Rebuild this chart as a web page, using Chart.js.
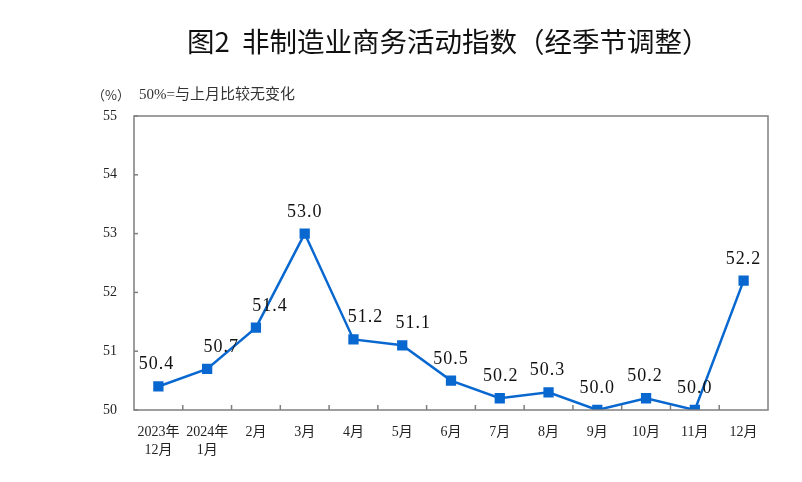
<!DOCTYPE html>
<html>
<head>
<meta charset="utf-8">
<script src="https://cdn.jsdelivr.net/npm/chart.js@4/dist/chart.umd.min.js"></script>
<style>
  html, body { margin: 0; padding: 0; background: #fff; }
  #wrap { width: 802px; height: 482px; }
</style>
</head>
<body>
<div id="wrap"><canvas id="myChart" width="802" height="482"></canvas></div>
<script>
// categorias (eje x) y valores del indice
const meses = [['2023年', '12月'], ['2024年', '1月'], '2月', '3月', '4月', '5月', '6月', '7月', '8月', '9月', '10月', '11月', '12月'];
const valores = [50.4, 50.7, 51.4, 53.0, 51.2, 51.1, 50.5, 50.2, 50.3, 50.0, 50.2, 50.0, 52.2];
const ticksY = [50, 51, 52, 53, 54, 55];

const titulo = '图2  非制造业商务活动指数（经季节调整）';
const nota = '50%=与上月比较无变化';

// desplazamiento horizontal de algunas etiquetas (px)
const desplazaEtiqueta = [-2, 14, 14, 0, 12, 11, 0, 1, -1, 0, -1, 0, 0];

const serif = '"Liberation Serif", "DejaVu Serif", serif';
const cjk = '"Noto Sans CJK SC", sans-serif';

// marco, marcas interiores, etiquetas y titulo
const extras = {
  id: 'extras',
  afterDraw(chart) {
    const { ctx, chartArea: a, scales } = chart;
    ctx.save();
    // marco
    ctx.strokeStyle = '#7f7f7f';
    ctx.lineWidth = 1.5;
    ctx.strokeRect(a.left, a.top, a.right - a.left, a.bottom - a.top);
    // marcas eje y
    ticksY.forEach(v => {
      const y = scales.y.getPixelForValue(v);
      ctx.beginPath();
      ctx.moveTo(a.left, y);
      ctx.lineTo(a.left + 4, y);
      ctx.stroke();
    });
    // marcas eje x (entre categorias)
    for (let i = 0; i < meses.length - 1; i++) {
      const x = (scales.x.getPixelForValue(i) + scales.x.getPixelForValue(i + 1)) / 2;
      ctx.beginPath();
      ctx.moveTo(x, a.bottom);
      ctx.lineTo(x, a.bottom - 5);
      ctx.stroke();
    }
    // etiquetas de datos
    const meta = chart.getDatasetMeta(0);
    ctx.fillStyle = '#111';
    ctx.font = '18px ' + serif;
    ctx.letterSpacing = '1px';
    ctx.textAlign = 'center';
    ctx.textBaseline = 'alphabetic';
    meta.data.forEach((pt, i) => {
      ctx.fillText(valores[i].toFixed(1), pt.x + desplazaEtiqueta[i], pt.y - 17);
    });
    ctx.letterSpacing = '0px';
    // titulo
    ctx.font = '400 27.5px ' + cjk;
    ctx.textAlign = 'left';
    ctx.textBaseline = 'middle';
    ctx.fillText(titulo, 187, 42);
    // nota
    ctx.fillStyle = '#333';
    ctx.font = '13px ' + cjk;
    ctx.fillText('（%）', 92, 95);
    ctx.font = '15px ' + serif + ', ' + cjk;
    ctx.fillText(nota, 139, 95);
    ctx.restore();
  }
};

const ctx = document.getElementById('myChart').getContext('2d');
new Chart(ctx, {
  type: 'line',
  data: {
    labels: meses,
    datasets: [{
      data: valores,
      borderColor: '#0868d0',
      backgroundColor: '#0868d0',
      borderWidth: 2.5,
      pointStyle: 'rect',
      pointRadius: 5.5,
      pointHoverRadius: 5.5,
      tension: 0
    }]
  },
  options: {
    responsive: false,
    animation: false,
    devicePixelRatio: 1,
    layout: { padding: { left: 0, right: 34, top: 116, bottom: 0 } },
    plugins: {
      legend: { display: false },
      tooltip: { enabled: false },
      title: { display: false }
    },
    scales: {
      x: {
        offset: true,
        grid: { display: false, drawTicks: false },
        border: { display: false },
        ticks: {
          padding: 14,
          color: '#222',
          font: { family: serif + ', ' + cjk, size: 14, lineHeight: 1.25 },
          maxRotation: 0,
          autoSkip: false
        },
        afterFit(scale) { scale.height = 72; }
      },
      y: {
        min: 50,
        max: 55,
        grid: { display: false, drawTicks: false },
        border: { display: false },
        ticks: {
          stepSize: 1,
          padding: 17,
          color: '#222',
          font: { family: serif, size: 14 }
        },
        afterFit(scale) { scale.width = 134; }
      }
    }
  },
  plugins: [extras]
});
</script>
</body>
</html>
